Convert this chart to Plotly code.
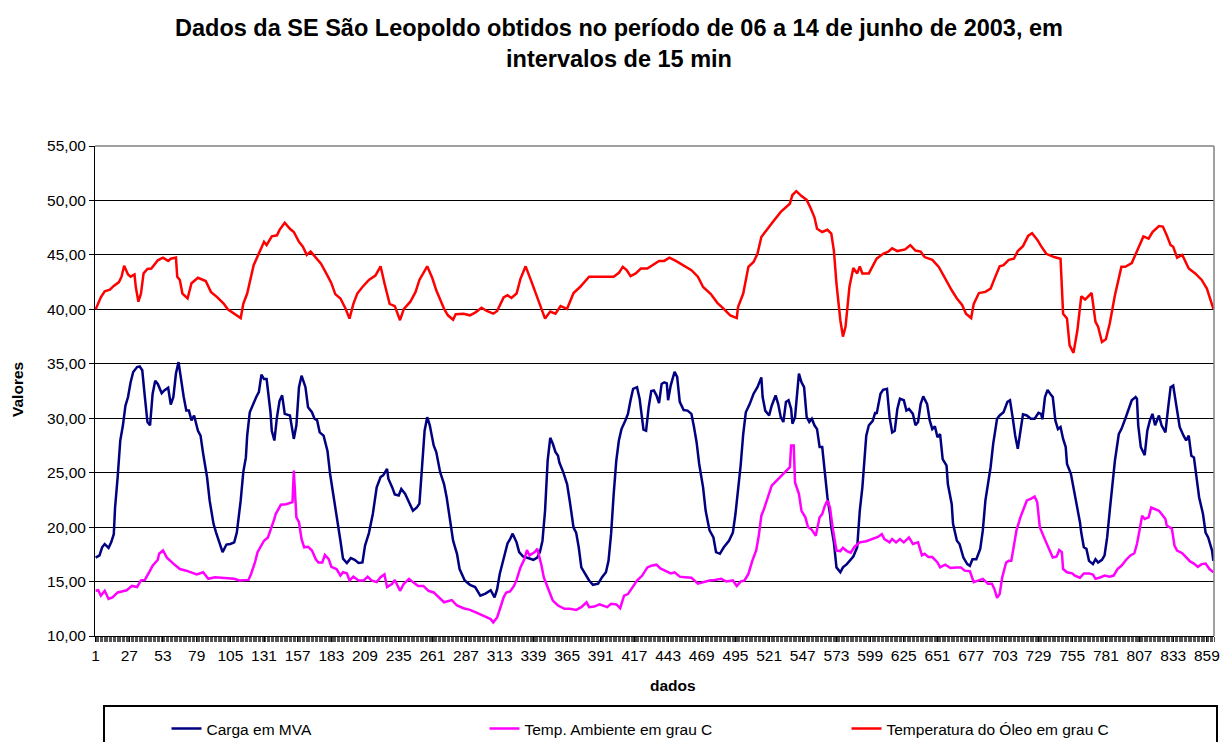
import plotly.graph_objects as go

# ---- data (index of 15-min sample, value) ----
carga_idx = [1,4,6,8,11,13,15,16,18,20,22,24,26,28,30,33,35,37,39,41,43,45,47,49,52,54,57,59,61,63,65,67,69,71,73,75,77,80,82,84,87,89,92,94,97,99,102,105,108,110,113,115,117,118,120,123,125,127,129,131,133,136,137,139,141,143,145,147,151,154,156,158,160,163,165,168,170,172,174,177,180,182,185,187,190,192,195,198,201,204,207,209,212,215,218,221,223,226,227,230,232,235,237,240,243,246,249,251,253,255,257,259,262,264,267,270,272,275,277,280,282,286,290,294,298,302,306,309,311,313,316,319,321,323,326,328,331,335,339,342,344,346,348,350,352,354,356,358,359,362,365,367,370,372,374,376,379,382,385,389,392,395,397,399,401,403,405,407,410,412,414,416,419,421,424,426,428,430,432,434,436,438,440,442,443,445,448,450,452,455,458,461,463,465,467,470,472,475,478,480,483,486,490,493,495,497,499,501,503,506,509,512,515,516,518,521,523,526,528,530,532,534,536,538,539,541,543,544,546,548,550,552,554,556,558,560,562,564,566,568,569,571,573,576,578,581,584,586,589,591,593,595,596,598,601,603,604,607,609,612,614,616,618,620,622,625,627,629,632,634,636,638,640,643,645,647,649,651,653,655,658,659,662,663,666,668,671,674,676,678,681,684,686,688,690,692,694,697,699,702,705,707,709,711,713,715,717,720,723,726,729,731,732,734,736,738,740,742,744,746,748,750,751,754,757,759,761,762,764,766,768,771,773,775,778,780,782,784,786,788,791,793,796,798,801,804,805,806,808,811,813,815,817,819,822,824,827,829,831,833,834,836,838,841,843,845,847,849,851,853,856,858,860,863,864]
carga_val = [17.2,17.4,18.15,18.45,18.1,18.6,19.35,21.8,24.6,27.95,29.3,31.15,31.95,33.3,34.25,34.7,34.75,34.4,31.95,29.65,29.35,32.25,33.45,33.15,32.3,32.55,32.8,31.25,31.95,34.1,35.15,33.3,31.95,30.7,30.7,29.8,30.25,28.85,28.4,26.75,24.6,22.45,20.3,19.5,18.45,17.7,18.4,18.45,18.6,19.5,22.45,25.05,26.4,28.4,30.55,31.5,31.95,32.4,34.0,33.6,33.6,30.55,28.85,27.95,30.1,31.6,32.1,30.4,30.25,28.1,29.35,32.85,33.9,32.85,31.0,30.55,29.95,29.8,28.7,28.4,27.0,24.9,22.75,20.9,18.75,17.1,16.7,17.15,17.0,16.7,16.75,18.3,19.45,21.2,23.65,24.6,24.75,25.35,24.45,23.65,23.0,22.9,23.5,23.05,22.3,21.5,21.8,22.15,25.5,28.85,30.1,29.35,27.5,26.9,25.05,23.95,22.75,20.3,18.75,17.55,16.15,15.1,14.7,14.5,13.7,13.9,14.2,13.55,14.3,15.7,17.2,18.5,18.9,19.4,18.6,17.7,17.3,17.15,17.0,17.2,17.7,18.75,21.5,26.1,28.2,27.65,26.9,26.55,25.95,25.05,23.95,22.45,19.95,19.5,18.15,16.3,15.7,15.1,14.7,14.8,15.4,15.85,16.9,19.4,23.05,26.1,27.95,29.0,29.8,30.4,31.65,32.7,32.85,31.8,28.95,28.85,31.0,32.5,32.55,32.1,31.4,33.15,33.3,33.2,31.65,33.0,34.25,33.8,31.5,30.75,30.7,30.4,29.2,27.8,25.8,23.65,21.5,19.7,19.05,17.7,17.55,18.15,18.75,19.5,21.2,23.35,25.65,28.55,30.55,31.3,32.25,32.85,33.75,31.95,30.7,30.25,31.15,32.1,31.3,30.1,29.65,31.5,31.65,30.85,29.5,30.1,33.3,34.1,33.3,32.85,30.1,29.65,29.95,29.35,29.0,27.35,27.35,24.9,22.75,21.2,20.0,18.6,16.3,15.85,16.3,16.6,17.05,17.3,18.15,21.5,23.65,26.4,28.4,29.35,29.75,30.55,30.4,32.25,32.6,32.7,30.1,28.7,28.85,30.85,31.8,31.65,30.7,30.85,30.4,29.35,29.65,31.3,32.0,31.3,29.8,29.0,29.25,28.25,28.55,26.25,25.65,23.95,22.1,20.3,18.75,18.45,17.2,16.6,16.45,17.05,17.05,18.0,19.7,22.45,24.1,25.5,27.65,29.95,30.25,30.55,31.5,31.65,30.1,28.4,27.2,28.85,30.35,30.25,29.95,29.95,30.5,30.4,29.9,31.95,32.6,32.25,31.95,29.8,29.0,29.2,28.1,27.35,25.8,24.9,23.05,21.8,20.45,19.5,18.15,18.0,16.9,16.6,17.05,16.75,17.0,17.4,19.05,21.5,23.65,26.1,28.55,29.0,29.95,30.7,31.65,31.95,31.8,29.35,27.35,26.6,28.85,29.8,30.4,29.35,30.25,29.35,28.7,30.85,32.85,33.0,32.25,31.0,29.2,28.4,27.95,28.4,26.55,26.4,24.6,22.75,21.2,19.5,19.05,17.85,16.9]

amb_idx = [1,3,5,8,11,14,18,21,25,29,33,36,39,43,45,49,50,53,56,61,66,71,75,79,84,88,93,98,103,108,112,119,121,124,126,129,131,134,137,139,140,144,148,151,153,154,155,156,158,160,162,165,168,171,173,176,178,181,183,187,190,192,195,197,200,204,208,211,214,218,221,224,226,230,232,236,239,243,246,250,254,258,262,266,270,276,280,285,290,295,299,303,306,308,311,314,316,318,321,324,326,329,332,334,336,340,342,345,347,351,354,358,363,367,372,376,380,382,386,390,396,399,403,406,409,412,416,419,423,427,430,434,437,441,445,448,452,456,461,466,470,475,479,484,488,493,496,499,502,505,508,511,513,515,517,520,523,527,531,534,537,538,540,541,544,546,549,551,554,557,560,562,564,566,568,570,573,576,578,581,584,587,591,596,601,605,608,610,614,616,619,622,625,629,632,636,639,641,644,647,651,653,657,661,665,669,672,676,679,682,686,690,693,695,697,699,701,704,706,708,710,712,715,717,720,723,726,728,730,734,737,740,743,745,747,748,751,755,757,761,764,768,771,773,777,780,784,787,790,793,797,800,803,805,807,809,811,814,816,819,822,824,827,828,832,834,836,840,843,846,849,852,855,858,861,864]
amb_val = [14.15,14.2,13.7,14.15,13.4,13.55,14.0,14.1,14.2,14.6,14.5,15.1,15.15,16.0,16.45,17.0,17.55,17.85,17.2,16.65,16.15,16.0,15.85,15.65,15.85,15.25,15.4,15.35,15.25,15.25,15.1,15.15,15.7,16.75,17.7,18.3,18.75,19.05,20.0,20.75,21.2,22.05,22.1,22.2,22.3,25.2,22.6,20.9,20.45,18.9,18.15,18.2,17.85,17.05,16.75,16.75,17.45,17.05,16.35,16.15,15.55,15.85,15.75,15.1,15.45,15.1,15.1,15.45,15.1,14.95,15.4,15.65,14.5,14.8,15.15,14.15,14.8,15.25,14.95,14.6,14.6,14.15,14.0,13.55,13.1,13.3,12.8,12.55,12.4,12.15,11.95,11.7,11.55,11.25,11.7,12.8,13.55,14.0,14.1,14.6,15.15,16.3,17.05,17.9,17.4,17.7,18.0,16.6,15.4,14.15,13.25,12.8,12.5,12.5,12.4,12.65,13.1,12.65,12.7,12.9,12.65,12.95,12.9,12.55,13.7,13.85,14.6,15.1,15.55,16.3,16.45,16.55,16.2,16.0,15.75,15.85,15.45,15.4,15.35,14.8,14.95,15.1,15.15,15.25,15.0,15.1,14.6,15.0,15.1,15.7,16.9,17.85,19.2,21.05,21.65,22.75,23.8,24.3,24.75,25.15,25.5,27.5,27.5,24.1,23.05,21.5,20.9,20.0,19.75,19.2,20.9,21.2,21.95,22.45,21.8,20.0,17.85,17.8,18.1,17.8,17.65,18.2,18.6,18.7,18.9,19.1,19.35,18.9,18.6,18.9,18.6,18.9,18.6,19.05,18.45,18.6,17.4,17.55,17.25,17.25,16.75,16.3,16.55,16.25,16.3,16.3,16.0,15.95,14.95,15.1,15.25,14.8,14.8,14.3,13.5,13.85,15.4,16.75,16.9,16.9,18.45,19.7,20.9,21.5,22.45,22.6,22.8,22.3,20.0,18.85,18.0,17.2,17.3,17.9,17.7,16.15,15.85,15.75,15.55,15.35,15.75,15.75,15.65,15.25,15.4,15.55,15.45,15.55,16.15,16.45,17.05,17.4,17.6,18.45,19.7,21.05,20.75,20.9,21.8,21.65,21.5,21.2,20.75,20.15,19.85,18.3,17.85,17.6,17.2,16.85,16.65,16.35,16.6,16.65,16.15,15.85]

oleo_idx = [1,5,8,12,15,19,21,23,26,28,31,32,34,36,38,41,44,46,49,53,57,59,63,64,66,68,72,75,80,86,90,95,100,103,108,113,115,118,123,127,131,133,137,141,143,147,151,154,158,161,164,167,171,175,180,183,186,190,194,197,200,203,207,212,217,221,224,228,232,236,239,244,248,251,257,261,264,270,273,277,279,285,290,294,299,303,308,311,316,319,322,326,329,333,337,341,345,348,352,356,360,365,370,375,382,388,401,405,408,411,414,418,422,427,432,436,440,444,449,452,456,461,466,470,476,481,486,491,496,497,501,505,509,512,515,519,524,530,534,537,539,542,546,550,553,556,558,562,566,569,571,573,576,578,580,583,586,589,591,593,598,604,609,613,616,620,626,630,634,638,641,647,652,657,662,666,670,673,677,679,683,688,692,695,699,702,706,710,713,717,721,724,728,731,735,741,746,748,751,753,756,759,762,765,770,773,775,778,781,784,788,793,796,801,805,810,814,817,822,825,828,831,833,836,840,845,850,855,859,862,864]
oleo_val = [40.0,41.1,41.65,41.8,42.15,42.5,43.0,44.0,43.2,43.0,43.2,42.05,40.7,41.45,43.3,43.7,43.75,44.05,44.5,44.75,44.45,44.65,44.75,43.0,42.7,41.45,41.0,42.4,42.9,42.6,41.6,41.1,40.5,40.0,39.6,39.2,40.5,41.45,44.05,45.1,46.2,45.9,46.7,46.8,47.3,47.95,47.4,47.1,46.2,45.75,45.0,45.3,44.8,44.2,43.1,42.4,41.4,41.0,40.05,39.15,40.5,41.45,42.05,42.7,43.1,43.95,42.4,40.5,40.3,39.0,40.05,40.7,41.6,42.7,43.95,42.85,41.75,40.05,39.45,39.05,39.55,39.6,39.45,39.7,40.15,39.85,39.6,39.85,41.1,41.3,41.05,41.45,42.8,43.95,42.7,41.4,40.2,39.15,39.8,39.6,40.3,40.05,41.5,42.05,43.0,43.0,43.0,43.35,43.9,43.6,43.05,43.3,43.75,43.75,44.15,44.45,44.45,44.75,44.45,44.25,43.95,43.6,43.0,42.05,41.4,40.6,40.05,39.45,39.2,40.2,41.45,43.9,44.35,45.1,46.65,47.3,48.05,48.95,49.4,49.7,50.5,50.85,50.4,50.05,49.3,48.45,47.4,47.1,47.3,46.95,45.4,42.35,39.0,37.5,38.4,42.05,43.8,43.3,43.95,43.3,43.3,44.65,45.1,45.3,45.6,45.35,45.5,45.9,45.4,45.3,44.8,44.55,43.9,42.8,41.75,41.0,40.4,39.6,39.2,40.5,41.5,41.6,41.9,42.8,43.95,44.05,44.55,44.65,45.35,45.8,46.75,47.0,46.4,45.8,45.1,44.8,44.65,39.6,39.15,36.7,36.0,38.05,41.2,40.9,41.5,38.85,38.4,37.0,37.25,38.7,41.3,43.9,43.9,44.25,45.4,46.7,46.5,47.1,47.65,47.6,46.8,45.9,45.75,44.75,45.0,43.75,43.3,42.7,41.9,40.8,40.05]

x_tick_labels = [1,27,53,79,105,131,157,183,209,235,261,287,313,339,365,391,417,443,469,495,521,547,573,599,625,651,677,703,729,755,781,807,833,859]

series_names = ["Carga em MVA", "Temp. Ambiente em grau C", "Temperatura do Óleo em grau C"]
series_colors = ["#000080", "#FF00FF", "#FF0000"]

FONT = "Liberation Sans, Arial, sans-serif"
FS = 15.5

fig = go.Figure()
for name, color, xs, ys, lg in zip(series_names, series_colors,
                                   [carga_idx, amb_idx, oleo_idx],
                                   [carga_val, amb_val, oleo_val],
                                   ["legend", "legend2", "legend3"]):
    fig.add_trace(go.Scatter(x=xs, y=ys, mode="lines", name=name,
                             line=dict(color=color, width=2.5), legend=lg))

# plot area: x 95..1214, y 146..636 (px)
L, R, T, B = 95, 1214, 146, 636
W, H = R - L, B - T
def px_x(p): return (p - L) / W
def px_y(p): return (B - p) / H

legend_common = dict(orientation="h", yanchor="middle", xanchor="left",
                     y=px_y(729), bgcolor="rgba(0,0,0,0)",
                     font=dict(family=FONT, size=FS, color="#000"))

fig.update_layout(
    width=1222, height=742,
    margin=dict(l=L, r=1222 - R, t=T, b=742 - B, autoexpand=False),
    paper_bgcolor="white", plot_bgcolor="white",
    separators=",.",
    title=dict(text="<b>Dados da SE São Leopoldo obtidos no período de 06 a 14 de junho de 2003, em<br>intervalos de 15 min</b>",
               x=619 / 1222, xanchor="center", xref="container",
               y=1 - 36 / 742, yanchor="middle", yref="container",
               font=dict(family=FONT, size=23.5, color="#000")),
    font=dict(family=FONT, size=FS, color="#000"),
    legend=dict(x=px_x(166.5), **legend_common),
    legend2=dict(x=px_x(484.5), **legend_common),
    legend3=dict(x=px_x(846.5), **legend_common),
    showlegend=True,
    xaxis=dict(range=[0.5, 864.5], tickmode="array", tickvals=x_tick_labels,
               ticktext=[str(v) for v in x_tick_labels], automargin=False,
               showgrid=False, zeroline=False, showline=True, linecolor="#000", linewidth=1,
               ticks="outside", ticklen=5, tickcolor="#000",
               tickfont=dict(family=FONT, size=FS, color="#000"),
               minor=dict(tickmode="linear", tick0=0.5, dtick=1, ticks="outside",
                          ticklen=5, tickcolor="#555", tickwidth=1, showgrid=False)),
    yaxis=dict(range=[10, 55], tickmode="linear", tick0=10, dtick=5, tickformat=".2f",
               automargin=False,
               showgrid=True, gridcolor="#000", gridwidth=1, zeroline=False,
               showline=True, linecolor="#000", linewidth=1,
               ticks="outside", ticklen=5, tickcolor="#000",
               tickfont=dict(family=FONT, size=FS, color="#000")),
    shapes=[
        dict(type="line", xref="paper", yref="paper", x0=0, x1=1, y0=1, y1=1,
             line=dict(color="#808080", width=1.5)),
        dict(type="line", xref="paper", yref="paper", x0=1, x1=1, y0=0, y1=1,
             line=dict(color="#808080", width=1.5)),
        dict(type="rect", xref="paper", yref="paper",
             x0=px_x(104), x1=px_x(1217), y0=px_y(706), y1=px_y(760),
             line=dict(color="#000", width=2), fillcolor="rgba(0,0,0,0)"),
    ],
    annotations=[
        dict(text="<b>Valores</b>", xref="paper", yref="paper", x=px_x(17), y=px_y(390),
             xanchor="center", yanchor="middle",
             showarrow=False, textangle=-90, font=dict(family=FONT, size=FS, color="#000")),
        dict(text="<b>dados</b>", xref="paper", yref="paper", x=px_x(673), y=px_y(685),
             xanchor="center", yanchor="middle",
             showarrow=False, font=dict(family=FONT, size=FS, color="#000")),
    ],
)

fig.write_html("out.html", config={"displayModeBar": False, "responsive": False},
               post_script="document.body.style.margin='0';document.body.style.overflow='hidden';")
